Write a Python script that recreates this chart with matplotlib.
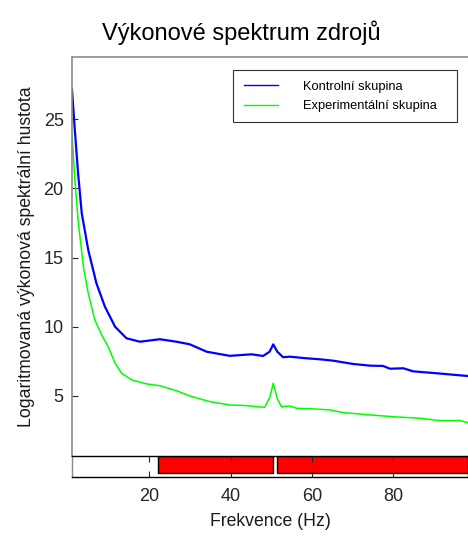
import matplotlib
matplotlib.use("Agg")
import matplotlib.pyplot as plt
from matplotlib.patches import Rectangle

plt.rcParams["font.family"] = ["Liberation Sans", "DejaVu Sans"]

ctrl_freq = [1, 1.7, 2.5, 3.4, 5.0, 7.0, 9.1, 11.6, 14.4, 17.7, 22.6, 26.7, 30.0,
             34.1, 39.8, 45.2, 48.0, 49.6, 50.5, 51.5, 52.9, 54.6, 58.7, 62.0,
             65.2, 70.2, 74.3, 77.5, 79.2, 82.5, 84.9, 90.7, 98.4]
ctrl_psd = [27.15, 24.2, 21.1, 18.2, 15.55, 13.15, 11.45, 10.0, 9.17, 8.92, 9.1,
            8.92, 8.73, 8.2, 7.9, 8.01, 7.89, 8.2, 8.73, 8.2, 7.8, 7.84, 7.72,
            7.65, 7.55, 7.31, 7.19, 7.17, 6.97, 7.0, 6.78, 6.64, 6.44]

exp_freq = [1, 1.7, 2.5, 3.8, 5.0, 6.6, 8.3, 9.9, 11.6, 13.2, 15.7, 19.4, 22.6,
            26.7, 30.0, 34.9, 39.8, 43.9, 48.4, 49.7, 50.5, 51.5, 52.5, 54.6,
            56.2, 59.5, 64.4, 67.7, 74.3, 80.0, 86.6, 91.5, 96.4, 98.4]
exp_psd = [23.98, 20.6, 17.7, 14.34, 12.42, 10.49, 9.41, 8.56, 7.36, 6.64, 6.16,
           5.87, 5.74, 5.38, 5.0, 4.59, 4.35, 4.3, 4.18, 4.95, 5.92, 4.8, 4.23,
           4.28, 4.11, 4.08, 3.99, 3.8, 3.63, 3.5, 3.39, 3.22, 3.22, 3.07]

# significant frequency ranges (red bars)
sig_start = [22.05, 51.4]
sig_end = [50.5, 98.4]

W, H = 468, 536
fig = plt.figure(figsize=(W / 100, H / 100), dpi=100)

ax = fig.add_axes([72 / W, (H - 456) / H, 396 / W, (456 - 57) / H])
ax.plot(ctrl_freq, ctrl_psd, color=(0, 0, 1), lw=1.6, label="Kontrolní skupina")
ax.plot(exp_freq, exp_psd, color=(0, 1, 0), lw=1.1, label="Experimentální skupina")
ax.set_xlim(1, 98.4)
ax.set_ylim(0.66, 29.5)
ax.set_yticks([5, 10, 15, 20, 25])
ax.set_xticks([])
ax.tick_params(axis="y", direction="in", length=4, labelsize=13, colors="0.15",
               pad=6)
for side in ("right", "bottom"):
    ax.spines[side].set_visible(False)
for side in ("left", "top"):
    ax.spines[side].set_color("0.55")
    ax.spines[side].set_linewidth(1.2)
ax.set_ylabel("Logaritmovaná výkonová spektrální hustota", fontsize=12.7,
              color="0.1", labelpad=6)

# legend entries without frame, box drawn separately (MATLAB-like padding)
leg = ax.legend(loc="upper left", bbox_to_anchor=(233 / W, 1 - 70 / H),
                bbox_transform=fig.transFigure, borderaxespad=0, frameon=False,
                fontsize=9.3, handlelength=2.6, handletextpad=2.0, borderpad=0.85,
                labelspacing=0.55)
for ln in leg.get_lines():
    ln.set_linewidth(1.0)
fig.patches.append(Rectangle((233 / W, 1 - 122 / H), 224 / W, 52 / H,
                             transform=fig.transFigure, fill=False,
                             edgecolor="0.2", lw=0.8, zorder=5))

# significance strip
sx = fig.add_axes([72 / W, (H - 477) / H, 396 / W, 21 / H])
sx.set_xlim(1, 98.4)
sx.set_ylim(0, 1)
for s, e in zip(sig_start, sig_end):
    sx.add_patch(Rectangle((s, 0.2), e - s, 0.8, facecolor="red",
                           edgecolor="black", lw=1))
sx.set_xticks([20, 40, 60, 80])
sx.set_yticks([])
sx.tick_params(axis="x", direction="in", length=4, labelsize=13, colors="0.15",
               pad=8, top=True)
for sp in sx.spines.values():
    sp.set_color("black")
    sp.set_linewidth(1)
sx.spines["left"].set_color("0.55")
sx.set_xlabel("Frekvence (Hz)", fontsize=12.7, color="0.1", labelpad=6)

fig.text(241 / W, 1 - 33 / H, "Výkonové spektrum zdrojů", ha="center",
         va="center", fontsize=17)

fig.savefig("out.png", dpi=100)
